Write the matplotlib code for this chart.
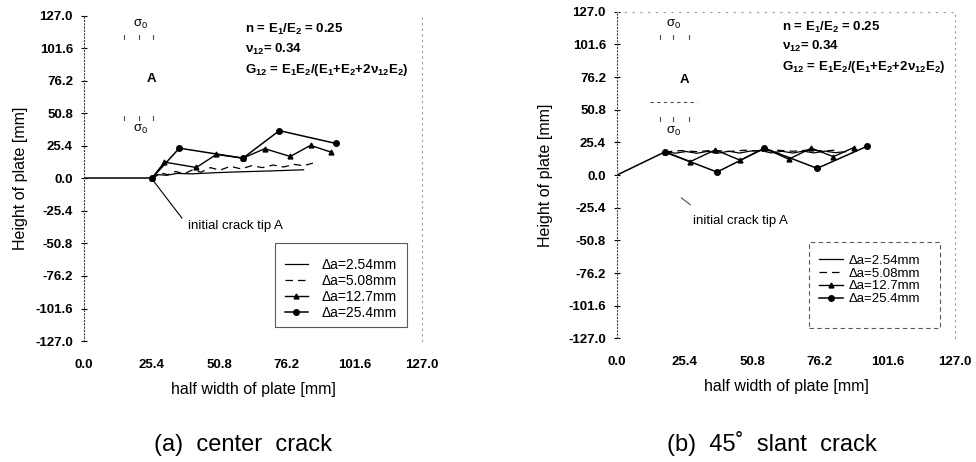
import matplotlib.pyplot as plt
from matplotlib.patches import Rectangle

plt.rcParams['font.family'] = ['Liberation Sans', 'DejaVu Sans']
plt.rcParams['mathtext.fontset'] = 'custom'
plt.rcParams['mathtext.rm'] = 'Liberation Sans:bold'
plt.rcParams['mathtext.it'] = 'Liberation Sans:italic:bold'
plt.rcParams['mathtext.bf'] = 'Liberation Sans:bold'
plt.rcParams['mathtext.default'] = 'regular'

ticks = [-127.0, -101.6, -76.2, -50.8, -25.4, 0.0, 25.4, 50.8, 76.2, 101.6, 127.0]
xticks = [0.0, 25.4, 50.8, 76.2, 101.6, 127.0]
labels = ["\u0394a=2.54mm", "\u0394a=5.08mm", "\u0394a=12.7mm", "\u0394a=25.4mm"]

# (a) center crack
a_init_x = [0.0, 25.4]
a_init_y = [0.0, 0.0]
a_254_x = [25.4, 28.0, 31.0, 35.0, 40.0, 50.0, 60.0, 70.0, 82.5]
a_254_y = [0.0, 3.0, 2.5, 4.0, 3.6, 4.6, 5.3, 5.9, 6.8]
a_508_x = [25.4, 28.5, 31.5, 34.5, 37.5, 40.5, 44.0, 47.5, 51.0, 55.0, 59.0,
           63.0, 67.0, 71.0, 75.0, 79.0, 82.5, 86.0]
a_508_y = [0.0, 4.5, 3.0, 5.5, 3.5, 6.5, 5.0, 8.5, 6.5, 9.5, 7.5,
           10.0, 8.5, 10.5, 9.0, 11.0, 10.0, 12.0]
a_127_x = [25.4, 30.2, 42.2, 49.7, 59.7, 67.9, 77.5, 85.1, 92.8]
a_127_y = [0.0, 12.8, 8.6, 18.8, 15.9, 23.3, 17.2, 25.9, 20.6]
a_25_x = [25.4, 35.8, 59.7, 73.4, 94.6]
a_25_y = [0.0, 23.7, 15.9, 37.4, 27.4]

# (b) 45 deg slant crack
b_init_x = [0.0, 17.96]
b_init_y = [0.0, 17.96]
b_254_x = [17.96, 22.0, 26.0, 30.0, 34.0, 38.0, 42.0, 46.0, 50.0, 54.0, 58.0,
           62.0, 66.0, 70.0, 74.0, 78.0, 82.0, 86.0]
b_254_y = [17.96, 17.0, 18.3, 16.9, 18.4, 17.0, 18.5, 17.1, 18.6, 19.0, 17.2,
           18.5, 17.1, 18.6, 17.2, 18.6, 17.4, 18.2]
b_508_x = [17.96, 24.0, 30.0, 36.0, 42.0, 48.0, 54.0, 60.0, 66.0, 72.0, 78.0, 83.4]
b_508_y = [17.96, 19.0, 18.2, 19.2, 18.3, 19.3, 18.6, 19.3, 18.5, 19.4, 18.7, 19.6]
b_127_x = [17.96, 27.5, 36.9, 46.3, 55.4, 64.5, 73.0, 81.3, 89.0]
b_127_y = [17.96, 10.4, 19.6, 11.5, 20.9, 12.3, 20.9, 14.3, 21.4]
b_25_x = [17.96, 37.6, 55.4, 75.2, 94.1]
b_25_y = [17.96, 2.3, 20.9, 5.2, 22.5]

fig = plt.figure(figsize=(9.76, 4.62), dpi=100)
ax1 = fig.add_axes([0.0861, 0.2619, 0.3463, 0.7035])
ax2 = fig.add_axes([0.6322, 0.2677, 0.3463, 0.7069])


def setup(ax, ylab_x):
    ax.set_xlim(0, 127)
    ax.set_ylim(-127, 127)
    ax.set_xticks(xticks)
    ax.set_yticks(ticks)
    ax.set_xticklabels(["%.1f" % t for t in xticks], fontsize=9.5, fontweight='bold')
    ax.set_yticklabels(["%.1f" % t for t in ticks], fontsize=9.5, fontweight='bold')
    ax.tick_params(axis='x', length=0, pad=13)
    ax.tick_params(axis='y', length=4, direction='inout', width=0.8, pad=6)
    for s in ['top', 'bottom']:
        ax.spines[s].set_visible(False)
    ax.spines['left'].set_linestyle((0, (1, 2)))
    ax.spines['left'].set_color('0.25')
    ax.spines['right'].set_linestyle((0, (1, 4)))
    ax.spines['right'].set_color('0.6')
    ax.set_xlabel("half width of plate [mm]", fontsize=11.5)
    ax.xaxis.set_label_coords(0.5, -0.125)
    ax.set_ylabel("Height of plate [mm]", fontsize=11.5)
    ax.yaxis.set_label_coords(ylab_x, 0.5)
    ax.patch.set_alpha(0)


def curves(ax, init, c254, c508, c127, c25):
    ax.plot(init[0], init[1], color='black', lw=1.1)
    h1, = ax.plot(c254[0], c254[1], color='black', lw=0.9, label=labels[0])
    h2, = ax.plot(c508[0], c508[1], color='black', lw=0.9, ls=(0, (6, 4)), label=labels[1])
    h3, = ax.plot(c127[0], c127[1], color='black', lw=1.0, marker='^', ms=3.5, label=labels[2])
    h4, = ax.plot(c25[0], c25[1], color='black', lw=1.1, marker='o', ms=4, label=labels[3])
    return [h1, h2, h3, h4]


def params(ax, x, ys):
    kw = dict(fontsize=9.5, fontweight='bold', va='center')
    ax.text(x, ys[0], "n = E$_1$/E$_2$ = 0.25", **kw)
    ax.text(x, ys[1], r"$\nu_{12}$= 0.34", **kw)
    ax.text(x, ys[2], r"G$_{12}$ = E$_1$E$_2$/(E$_1$+E$_2$+2$\nu_{12}$E$_2$)", **kw)


def schematic(ax, top_y, low_y, a_y, xs):
    ax.text(21.1, top_y + 8, r"$\sigma_0$", fontsize=9.5, ha='center', va='center')
    ax.text(21.1, low_y - 11, r"$\sigma_0$", fontsize=9.5, ha='center', va='center')
    ax.text(25.4, a_y, "A", fontsize=9.5, fontweight='bold', ha='center', va='center')
    for x in xs:
        ax.plot([x, x], [top_y, top_y - 3], color='0.3', lw=0.8)
        ax.plot([x, x], [low_y, low_y - 3], color='0.3', lw=0.8)


def legend_box(x0, y0, x1, y1, ls):
    # box given in figure pixels (from top-left)
    r = Rectangle((x0 / 976, 1 - y1 / 462), (x1 - x0) / 976, (y1 - y0) / 462,
                  transform=fig.transFigure, fill=False, edgecolor='0.35',
                  lw=0.8, ls=ls)
    fig.patches.append(r)


# left panel
h = curves(ax1, (a_init_x, a_init_y), (a_254_x, a_254_y), (a_508_x, a_508_y),
           (a_127_x, a_127_y), (a_25_x, a_25_y))
setup(ax1, -0.166)
params(ax1, 60.6, [116.5, 100.9, 84.6])
schematic(ax1, 112, 49, 77.6, [15.1, 20.7, 26.0])
ax1.plot([25.4, 36.8], [0, -31], color='black', lw=0.8)
ax1.text(39.1, -37, "initial crack tip A", fontsize=9.5, va='center')
ax1.legend(handles=h, loc='upper left', bbox_to_anchor=(0.2920, 0.4416),
           bbox_transform=fig.transFigure, fontsize=10, handlelength=1.65,
           handletextpad=1.0, borderpad=0, borderaxespad=0, labelspacing=0.15,
           frameon=False)
legend_box(275, 243, 407, 327, '-')

# right panel
h = curves(ax2, (b_init_x, b_init_y), (b_254_x, b_254_y), (b_508_x, b_508_y),
           (b_127_x, b_127_y), (b_25_x, b_25_y))
setup(ax2, -0.189)
params(ax2, 62.1, [115.0, 100.2, 83.8])
schematic(ax2, 109, 45, 73.6, [16.2, 21.2, 27.2])
ax2.plot([12.4, 30.0], [56.5, 56.5], color='0.3', lw=0.8, ls=(0, (3, 3)))
ax2.plot([24.2, 27.5], [-17.8, -23.0], color='0.3', lw=0.8)
ax2.text(28.6, -36, "initial crack tip A", fontsize=9.5, va='center')
ax2.spines['top'].set_visible(True)
ax2.spines['top'].set_linestyle((0, (1, 6)))
ax2.spines['top'].set_color('0.6')
ax2.legend(handles=h, loc='upper left', bbox_to_anchor=(0.8394, 0.4492),
           bbox_transform=fig.transFigure, fontsize=9.5, handlelength=1.8,
           handletextpad=0.45, borderpad=0, borderaxespad=0, labelspacing=0.05,
           frameon=False)
legend_box(809, 242, 940, 328, (0, (4, 3)))

fig.text(0.249, 0.0368, "(a)  center  crack", fontsize=17, ha='center', va='center')
fig.text(0.791, 0.0405, "(b)  45\u02da  slant  crack", fontsize=17, ha='center', va='center')

fig.savefig("out.png", dpi=100)
